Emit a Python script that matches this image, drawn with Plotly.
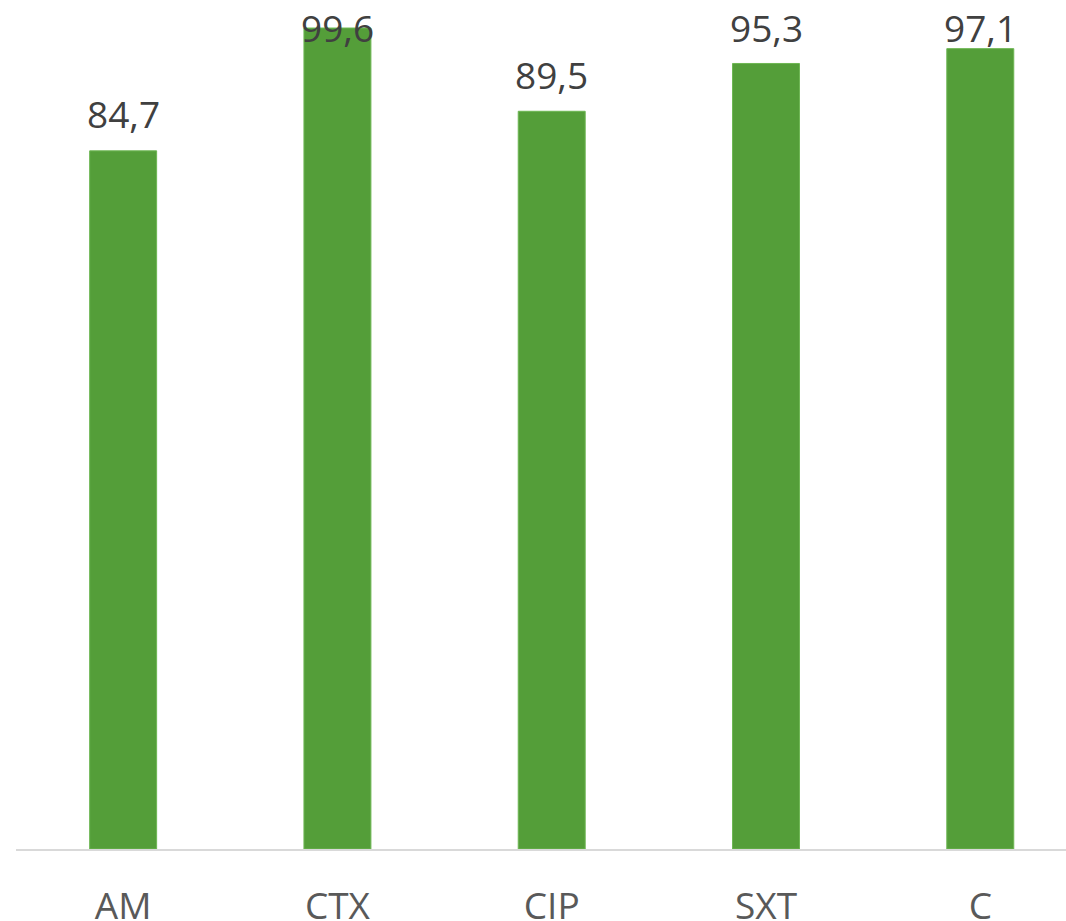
import plotly.graph_objects as go

# Resistance rates per antibiotic
antibiotics = ["AM", "CTX", "CIP", "SXT", "C"]
rates = [84.7, 99.6, 89.5, 95.3, 97.1]
rate_labels = ["84,7", "99,6", "89,5", "95,3", "97,1"]

BAR_COLOR = "#549E39"
LABEL_COLOR = "#404040"
TICK_COLOR = "#595959"
FONT = "Open Sans"

Y_TOP = 103.0          # upper end of the value axis
LABEL_OFFSET = 4.5     # distance from bar top to label centre (data units)
LABEL_CAP = 99.7       # labels are kept inside the plotting area

fig = go.Figure(
    go.Bar(
        x=antibiotics,
        y=rates,
        marker=dict(color=BAR_COLOR, line=dict(color="#6DB653", width=1)),
        hoverinfo="x+y",
    )
)

for name, value, text in zip(antibiotics, rates, rate_labels):
    fig.add_annotation(
        x=name,
        y=min(value + LABEL_OFFSET, LABEL_CAP),
        text=text,
        showarrow=False,
        xanchor="center",
        yanchor="middle",
        font=dict(family=FONT, size=37, color=LABEL_COLOR),
    )

fig.update_layout(
    width=1066,
    height=921,
    margin=dict(l=16, r=0, t=0, b=72, autoexpand=False),
    paper_bgcolor="white",
    plot_bgcolor="white",
    bargap=0.6875,
    showlegend=False,
    font=dict(family=FONT),
)

fig.update_xaxes(
    range=[-0.5, 4.4],
    automargin=False,
    showline=True,
    linecolor="#D9D9D9",
    linewidth=1.5,
    showgrid=False,
    ticks="",
    tickfont=dict(family=FONT, size=37, color=TICK_COLOR),
    ticklabelstandoff=24,
)

fig.update_yaxes(
    range=[0, Y_TOP],
    visible=False,
    showgrid=False,
    zeroline=False,
)

fig.write_html("out.html")
